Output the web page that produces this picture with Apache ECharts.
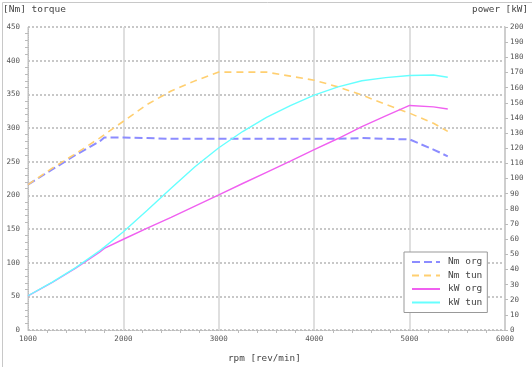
<!DOCTYPE html>
<html>
<head>
<meta charset="utf-8">
<script src="https://cdn.jsdelivr.net/npm/echarts@6/dist/echarts.min.js"></script>
<style>
html,body{margin:0;padding:0;background:#fff;}
#c{width:532px;height:367px;}
</style>
</head>
<body>
<div id="c"></div>
<script>
const rpm   = [1000,1250,1500,1750,1800,2000,2250,2500,2750,3000,3250,3500,3750,4000,4250,4500,4750,5000,5250,5400];
const nmOrg = [216,238,260,280,286,286,285,284,284,284,284,284,284,284,284,285,284,283,268,258];
const nmTun = [216,240,262,285,290,310,335,355,370,383,383,383,377,371,361,349,335,322,307,295];
const kwOrg = [22.6,31.2,40.8,51.3,53.9,59.9,67.2,74.4,81.8,89.2,96.7,104.1,111.5,119.0,126.4,134.3,141.3,148.2,147.3,145.9];
const kwTun = [22.6,31.4,41.2,52.2,54.7,64.9,79.0,93.5,107.8,120.3,131.0,140.4,148.1,155.0,160.5,164.5,166.6,168.0,168.3,166.8];
const seriesNames = ['Nm org','Nm tun','kW org','kW tun'];

const pair = (ys) => rpm.map((x, i) => [x, ys[i]]);
const FONT = 'DejaVu Sans Mono';
const tickLbl = { fontFamily: FONT, fontSize: 7.5, color: '#555', formatter: (v) => String(v) };

const chart = echarts.init(document.getElementById('c'), null, { renderer: 'canvas' });
chart.setOption({
  animation: false,
  backgroundColor: '#fff',
  grid: { left: 28, right: 27, top: 27, bottom: 37, containLabel: false },
  xAxis: {
    type: 'value', min: 1000, max: 6000, interval: 1000,
    axisLine: { show: true, lineStyle: { color: '#bbb', type: 'dotted', width: 1 } },
    axisTick: { show: false },
    minorTick: { show: true, splitNumber: 5, length: 3, lineStyle: { color: '#bbb' } },
    axisLabel: Object.assign({ margin: 5 }, tickLbl),
    splitLine: { show: true, lineStyle: { color: '#d4d4d4', width: 1.5, type: 'solid' } }
  },
  yAxis: [
    {
      type: 'value', min: 0, max: 450, interval: 50,
      axisLine: { show: true, lineStyle: { color: '#bbb', type: 'dotted' } },
      axisTick: { show: false },
      minorTick: { show: true, splitNumber: 5, length: 3, lineStyle: { color: '#bbb' } },
      axisLabel: Object.assign({ margin: 8 }, tickLbl),
      splitLine: { show: true, lineStyle: { color: '#c8c8c8', width: 2, type: 'dotted' } }
    },
    {
      type: 'value', min: 0, max: 200, interval: 10, position: 'right',
      axisLine: { show: true, lineStyle: { color: '#c8c8c8', width: 1.5 } },
      axisTick: { show: true, length: 3, lineStyle: { color: '#bbb' } },
      axisLabel: Object.assign({ margin: 5 }, tickLbl),
      splitLine: { show: false }
    }
  ],
  legend: {
    orient: 'vertical', left: 404, top: 252,
    data: seriesNames,
    itemWidth: 28, itemHeight: 10, itemGap: 3.5,
    padding: [5, 5, 5, 7],
    backgroundColor: '#fff', borderColor: '#999', borderWidth: 1, borderRadius: 0,
    itemStyle: { opacity: 0 },
    textStyle: { fontFamily: FONT, fontSize: 9.5, color: '#444', padding: [0, 0, 0, 3] }
  },
  series: [
    { name: seriesNames[0], type: 'line', yAxisIndex: 0, data: pair(nmOrg), symbol: 'none', showSymbol: false, color: '#8c8cff',
      lineStyle: { width: 2, type: [8, 4], color: '#8c8cff' } },
    { name: seriesNames[1], type: 'line', yAxisIndex: 0, data: pair(nmTun), symbol: 'none', showSymbol: false, color: '#ffcf70',
      lineStyle: { width: 1.6, type: [7, 5], color: '#ffcf70' } },
    { name: seriesNames[2], type: 'line', yAxisIndex: 1, data: pair(kwOrg), symbol: 'none', showSymbol: false, color: '#f060f0',
      lineStyle: { width: 1.4, color: '#f060f0' } },
    { name: seriesNames[3], type: 'line', yAxisIndex: 1, data: pair(kwTun), symbol: 'none', showSymbol: false, color: '#66ffff',
      lineStyle: { width: 1.4, color: '#66ffff' } }
  ],
  graphic: [
    { type: 'rect', left: 0, top: 0, shape: { x: 0.5, y: 0.5, width: 531, height: 366 },
      style: { fill: 'none', stroke: '#c8c8c8', lineWidth: 1 }, silent: true },
    { type: 'text', left: 3, top: 5, style: { text: '[Nm] torque', fontFamily: FONT, fontSize: 9.5, fill: '#444' } },
    { type: 'text', right: 4, top: 5, style: { text: 'power [kW]', fontFamily: FONT, fontSize: 9.3, fill: '#444' } },
    { type: 'text', left: 228, top: 354, style: { text: 'rpm [rev/min]', fontFamily: FONT, fontSize: 9.3, fill: '#444' } }
  ]
});
</script>
</body>
</html>
